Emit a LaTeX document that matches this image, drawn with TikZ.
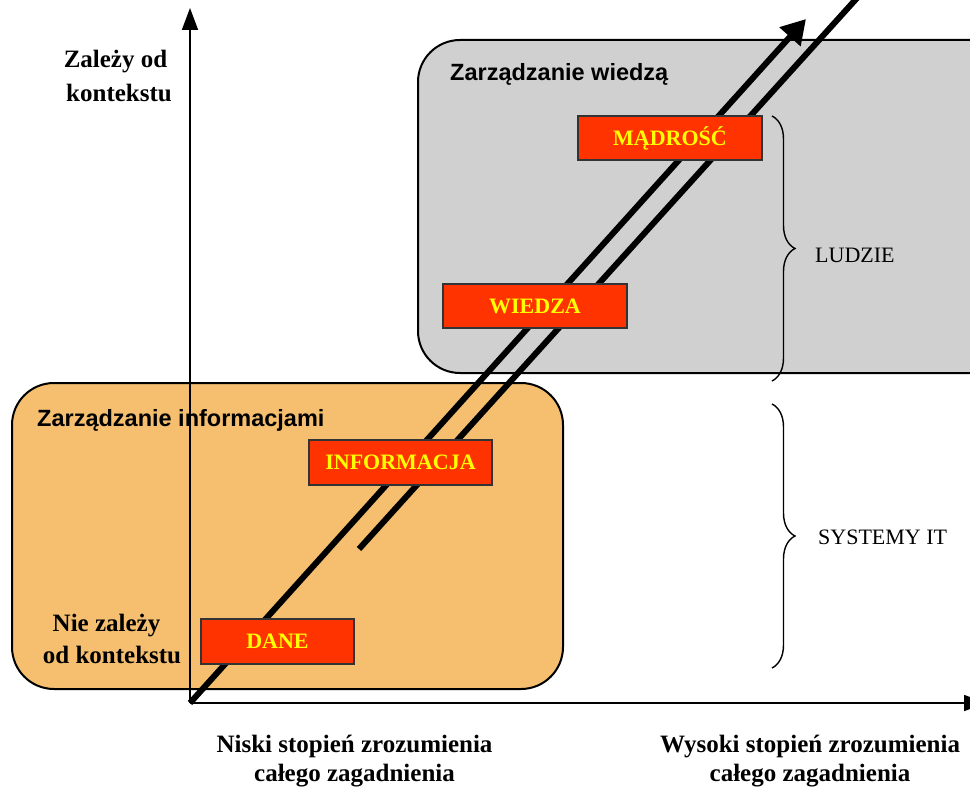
\documentclass[tikz,border=0pt]{standalone}
\usepackage{fontspec}
\setmainfont{Liberation Serif}
\setsansfont{Liberation Sans}
\usetikzlibrary{arrows.meta,decorations.pathreplacing}
\definecolor{boxred}{RGB}{255,51,0}
\definecolor{boxyellow}{RGB}{255,255,0}
\definecolor{areaorange}{RGB}{245,191,111}
\definecolor{areagrey}{RGB}{208,208,208}
\begin{document}
\begin{tikzpicture}[x=1pt,y=-1pt,
  area/.style={draw=black,line width=2pt,rounded corners=42pt},
  areatitle/.style={anchor=base west,inner sep=0pt,font=\sffamily\bfseries\fontsize{23.5}{28}\selectfont},
  redbox/.style={draw=black!80,line width=1.3pt,fill=boxred,inner sep=0pt,minimum height=44pt,
    font=\bfseries\fontsize{22}{26}\selectfont,text=boxyellow},
  axislabel/.style={anchor=base,inner sep=0pt,font=\bfseries\fontsize{25}{30}\selectfont},
  sidelabel/.style={anchor=west,inner sep=0pt,font=\fontsize{22}{26}\selectfont},
  axisline/.style={line width=1.8pt,-{Triangle[length=22pt,width=16pt]}},
  bigline/.style={line width=6pt},
  bracestyle/.style={line width=1.4pt,decorate,decoration={brace,amplitude=23pt}}]
\clip (0,0) rectangle (970,792);
\useasboundingbox (0,0) rectangle (970,792);

% areas
\draw[area,fill=areagrey] (418,40) rectangle (1012,373);
\draw[area,fill=areaorange] (12,383) rectangle (563,689);
\node[areatitle] (tw) at (450,81) {Zarządzanie wiedzą};
\node[areatitle] (ti) at (37,426) {Zarządzanie informacjami};

% axes
\coordinate (O) at (190,703);
\coordinate (ytip) at (190,8);
\coordinate (xtip) at (986,703);
\draw[axisline] (O) -- (ytip);
\draw[axisline] (O) -- (xtip);

% thick diagonal lines
\coordinate (mtip) at (806,19);
\coordinate (s1) at (359,549);
\coordinate (s2) at (876,-23);
\draw[bigline,-{Triangle[length=24pt,width=27pt]}] (O) -- (mtip);
\draw[bigline] (s1) -- (s2);

% red boxes
\node[redbox,minimum width=184pt] (madrosc) at (670,138) {MĄDROŚĆ};
\node[redbox,minimum width=184pt] (wiedza) at (535,306) {WIEDZA};
\node[redbox,minimum width=183pt,minimum height=45pt] (informacja) at (400.5,462.5) {INFORMACJA};
\node[redbox,minimum width=153pt,minimum height=45pt] (dane) at (277.5,641.5) {DANE};

% axis labels
\node[axislabel] (z1) at (115.5,67) {Zależy od};
\node[axislabel] (z2) at (119,102) {kontekstu};
\node[axislabel] (n1) at (106.5,631) {Nie zależy};
\node[axislabel] (n2) at (112,663) {od kontekstu};
\node[axislabel] (l1) at (354.5,752) {Niski stopień zrozumienia};
\node[axislabel] (l2) at (354.5,781) {całego zagadnienia};
\node[axislabel] (h1) at (810,752) {Wysoki stopień zrozumienia};
\node[axislabel] (h2) at (810,781) {całego zagadnienia};

% braces
\coordinate (b1t) at (772,116);
\coordinate (b1b) at (772,381);
\coordinate (b2t) at (772,404);
\coordinate (b2b) at (772,668);
\draw[bracestyle] (b1t) -- (b1b);
\draw[bracestyle] (b2t) -- (b2b);
\node[sidelabel] (ludzie) at (815,255) {LUDZIE};
\node[sidelabel] (systemy) at (818,537) {SYSTEMY IT};
\end{tikzpicture}
\end{document}
